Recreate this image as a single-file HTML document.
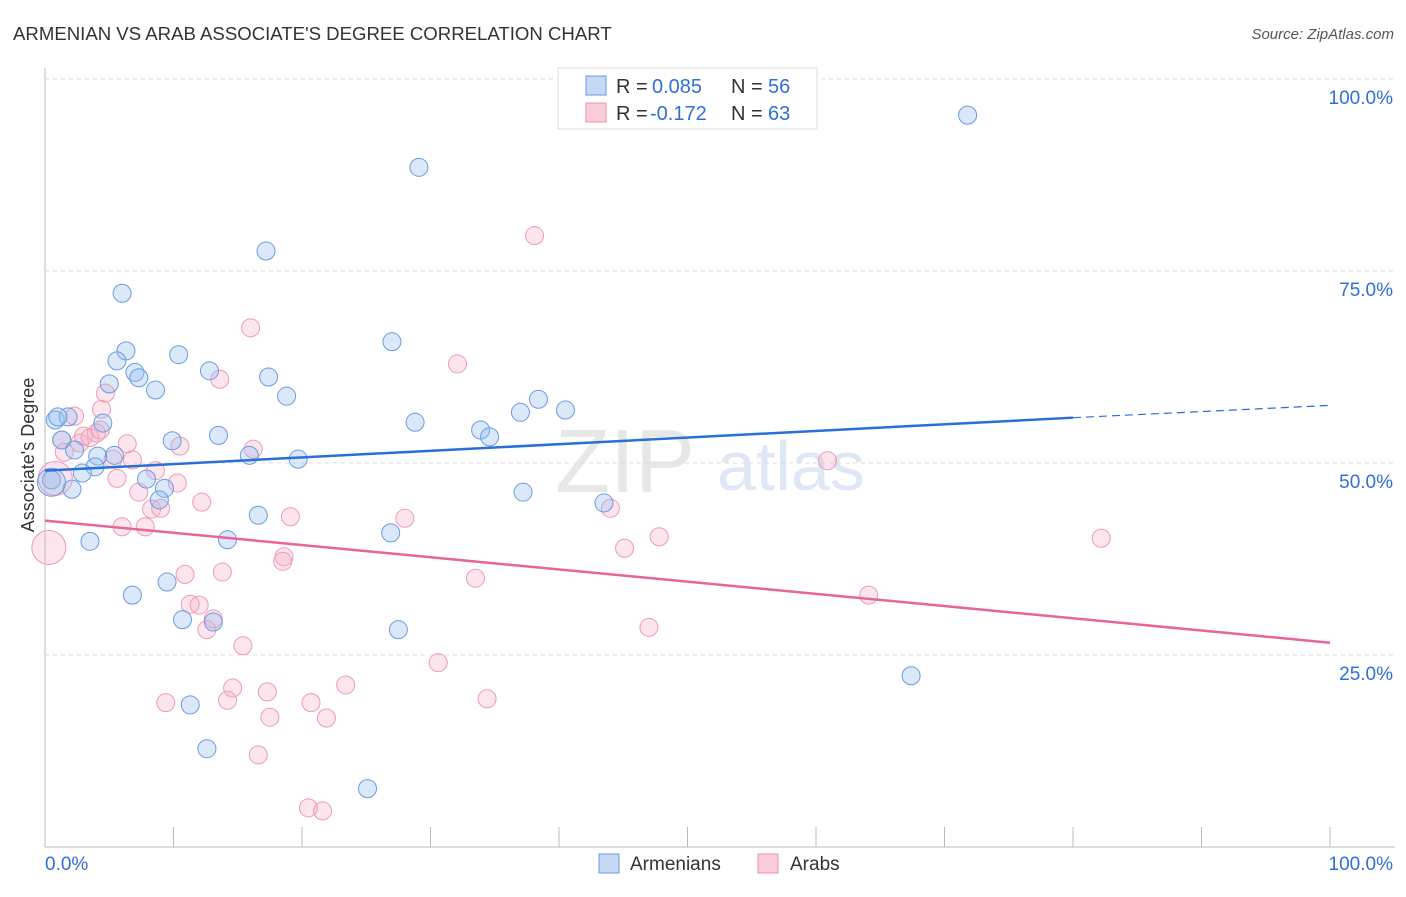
<!DOCTYPE html>
<html><head><meta charset="utf-8"><style>
body{margin:0;background:#fff;font-family:"Liberation Sans",sans-serif;}
svg text{font-family:"Liberation Sans",sans-serif;}
</style></head><body>
<svg id="c" width="1406" height="892">
<text x="13" y="40" font-size="18.6" fill="#333">ARMENIAN VS ARAB ASSOCIATE'S DEGREE CORRELATION CHART</text>
<text x="1394" y="39" font-size="15" fill="#555" text-anchor="end" font-style="italic">Source: ZipAtlas.com</text>
<text x="34" y="455" font-size="18" fill="#333" text-anchor="middle" transform="rotate(-90 34 455)">Associate's Degree</text>
<g><text x="555" y="492" font-size="90" fill="#ddd" font-family="Liberation Serif" opacity="0.7">ZIP</text><text x="717" y="490" font-size="70" fill="#c8d8f0" opacity="0.6">atlas</text></g>
<g id="grid"></g><g id="marks"></g>
<g>
<rect x="558" y="68" width="259" height="61" fill="#fff" stroke="#ddd"/>
<rect x="586" y="76" width="20" height="19" fill="#c5d9f5" stroke="#6a9be0"/>
<rect x="586" y="103" width="20" height="19" fill="#f9ccd8" stroke="#eb90ac"/>
<text x="616" y="93" font-size="20" fill="#333">R =</text><text x="652" y="93" font-size="20" fill="#2f6fd6">0.085</text>
<text x="731" y="93" font-size="20" fill="#333">N =</text><text x="768" y="93" font-size="20" fill="#2f6fd6">56</text>
<text x="616" y="120" font-size="20" fill="#333">R =</text><text x="650" y="120" font-size="20" fill="#2f6fd6">-0.172</text>
<text x="731" y="120" font-size="20" fill="#333">N =</text><text x="768" y="120" font-size="20" fill="#2f6fd6">63</text>
</g>
<g>
<rect x="599" y="854" width="20" height="19" fill="#c5d9f5" stroke="#6a9be0"/><text x="630" y="870" font-size="19" fill="#333">Armenians</text>
<rect x="758" y="854" width="20" height="19" fill="#f9ccd8" stroke="#eb90ac"/><text x="790" y="870" font-size="19" fill="#333">Arabs</text>
</g>
</svg>
<script>
const xTicks=[0,10,20,30,40,50,60,70,80,90,100];
const yTicks=[25,50,75,100];
const bluePx=[[968,115],[419,167],[266,251],[122,293],[392,342],[126,351],[117,361],[179,355],[210,371],[135,372],[269,377],[139,378],[156,390],[109,384],[286,396],[538,399],[566,410],[521,412],[415,422],[103,423],[55,420],[68,417],[58,417],[480,430],[490,437],[218,435],[172,441],[62,440],[75,450],[115,455],[249,455],[98,456],[298,459],[95,467],[82,473],[147,479],[164,488],[72,489],[159,500],[523,492],[604,503],[258,515],[227,540],[391,533],[90,541],[167,582],[133,595],[182,620],[213,622],[398,630],[911,676],[190,705],[207,749],[367,789],[51,480]];
const pinkPx=[[534,236],[250,328],[457,364],[220,379],[106,393],[101,409],[75,416],[80,443],[62,440],[83,436],[96,433],[90,438],[127,444],[180,446],[253,449],[64,452],[113,459],[132,460],[155,471],[827,461],[117,478],[177,483],[139,492],[152,509],[161,508],[202,502],[611,508],[290,517],[405,518],[122,527],[145,527],[659,537],[1101,538],[624,548],[284,557],[283,561],[222,572],[185,574],[476,578],[190,604],[199,605],[213,619],[207,630],[649,627],[869,595],[243,646],[438,663],[232,688],[346,685],[267,692],[166,703],[228,700],[311,703],[487,699],[270,717],[326,718],[258,755],[308,808],[323,811],[100,430]];
const armX=bluePx.map(p=>+((p[0]-45)/12.85).toFixed(1));
const armY=bluePx.map(p=>+((847-p[1])/7.68).toFixed(1));
const arabX=pinkPx.map(p=>+((p[0]-45)/12.85).toFixed(1));
const arabY=pinkPx.map(p=>+((847-p[1])/7.68).toFixed(1));
const bigArm=[[0.5,47.5]];const bigArab=[[0.3,39],[0.8,48]];
const armTrend=[49.0,55.9,57.5];
const arabTrend=[42.5,26.6];
const NS="http://www.w3.org/2000/svg";
const sx=v=>45+v*12.85, sy=v=>847-v*7.68;
const grid=document.getElementById('grid'), marks=document.getElementById('marks');
function mk(tag,at,parent){const e=document.createElementNS(NS,tag);for(const k in at)e.setAttribute(k,at[k]);parent.appendChild(e);return e;}
mk('line',{x1:45,y1:68,x2:45,y2:847,stroke:'#bbb'},grid);
mk('line',{x1:45,y1:847,x2:1395,y2:847,stroke:'#bbb'},grid);
yTicks.forEach(t=>{const l=mk('line',{x1:45,y1:sy(t),x2:1395,y2:sy(t),stroke:'#ddd','stroke-dasharray':'4,4'},grid);


const tx=mk('text',{x:1393,y:sy(t)+25,'font-size':19,fill:'#2f6fd6','text-anchor':'end'},grid);tx.textContent=t.toFixed(1)+'%';

});
xTicks.forEach(t=>{const l=mk('line',{x1:sx(t),y1:827,x2:sx(t),y2:847,stroke:'#bbb'},grid);

});
const x0=mk('text',{x:45,y:870,'font-size':19,fill:'#2f6fd6'},grid);x0.textContent='0.0%';


const x1=mk('text',{x:1393,y:870,'font-size':19,fill:'#2f6fd6','text-anchor':'end'},grid);x1.textContent='100.0%';


function dot(x,y,r,cls){const c=mk('circle',{cx:sx(x),cy:sy(y),r:r,fill:cls?'rgba(245,170,195,0.3)':'rgba(150,190,240,0.35)',stroke:cls?'#ee9ab5':'#6a9be0','stroke-width':1},marks);

}
arabX.forEach((x,i)=>dot(x,arabY[i],9,1));
bigArab.forEach(p=>dot(p[0],p[1],17,1));
armX.forEach((x,i)=>dot(x,armY[i],9,0));
bigArm.forEach(p=>dot(p[0],p[1],14,0));
let l=mk('line',{x1:sx(0),y1:sy(armTrend[0]),x2:sx(80),y2:sy(armTrend[1]),stroke:'#2a6fd8','stroke-width':2.5},marks);


l=mk('line',{x1:sx(80),y1:sy(armTrend[1]),x2:sx(100),y2:sy(armTrend[2]),stroke:'#2a6fd8','stroke-width':1.2,'stroke-dasharray':'8,5'},marks);


l=mk('line',{x1:sx(0),y1:sy(arabTrend[0]),x2:sx(100),y2:sy(arabTrend[1]),stroke:'#e8649a','stroke-width':2.5},marks);


</script>
</body></html>
